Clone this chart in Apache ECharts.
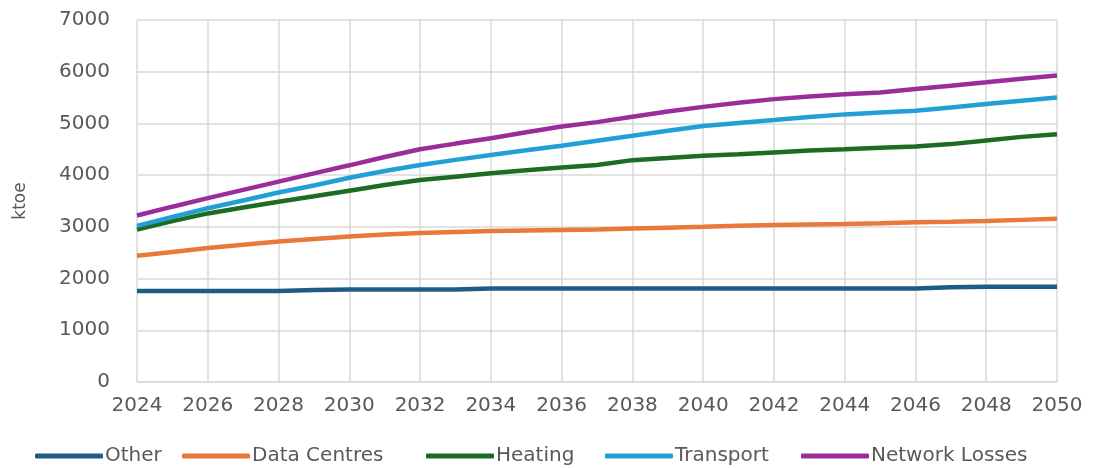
<!DOCTYPE html>
<html>
<head>
<meta charset="utf-8">
<script src="https://cdn.jsdelivr.net/npm/echarts@6/dist/echarts.min.js"></script>
<style>
  html, body { margin: 0; padding: 0; background: #fff; }
  #chart { width: 1094px; height: 468px; }
</style>
</head>
<body>
<div id="chart"></div>
<script>
// Final energy demand by end use, 2024-2050 (ktoe)
const years = ['2024','2025','2026','2027','2028','2029','2030','2031','2032','2033','2034','2035','2036','2037',
  '2038','2039','2040','2041','2042','2043','2044','2045','2046','2047','2048','2049','2050'];

const other = [1760,1760,1760,1760,1760,1780,1790,1790,1790,1790,1810,1810,1810,1810,
  1810,1810,1810,1810,1810,1810,1810,1810,1810,1830,1840,1840,1840];

const dataCentres = [2440,2515,2590,2655,2715,2765,2815,2850,2880,2900,2920,2930,2940,2950,
  2970,2985,3000,3020,3035,3045,3055,3070,3090,3100,3115,3135,3155];

const heating = [2950,3110,3260,3375,3485,3590,3700,3810,3905,3970,4035,4095,4150,4195,
  4290,4330,4375,4405,4440,4475,4500,4530,4555,4600,4670,4740,4790];

const transport = [3020,3190,3360,3510,3665,3800,3950,4080,4195,4295,4390,4480,4570,4665,
  4760,4860,4950,5010,5065,5125,5175,5210,5245,5310,5375,5440,5500];

const networkLosses = [3220,3390,3555,3715,3875,4035,4190,4350,4500,4610,4715,4830,4940,5025,
  5130,5230,5320,5400,5470,5520,5565,5600,5665,5730,5795,5865,5925];

const seriesNames = ['Other', 'Data Centres', 'Heating', 'Transport', 'Network Losses'];
const seriesData = [other, dataCentres, heating, transport, networkLosses];
const seriesColors = ['#1F5C84', '#E8793A', '#1E6B24', '#22A0D6', '#9B2D9B'];
// left edge of each legend entry along the bottom row
const legendLeft = [35, 182, 426, 605, 801];

const textColor = '#595959';
const gridColor = '#d9d9d9';
const fontFamily = '"DejaVu Sans", sans-serif';

const legends = seriesNames.map((name, i) => ({
  data: [name],
  left: legendLeft[i],
  bottom: 2,
  icon: 'roundRect',
  itemWidth: 68,
  itemHeight: 5,
  padding: 0,
  textStyle: { color: textColor, fontSize: 20, fontFamily: fontFamily, padding: [0, 0, 0, -3] }
}));

const chart = echarts.init(document.getElementById('chart'));
chart.setOption({
  animation: false,
  grid: { left: 137, right: 37, top: 20, bottom: 86 },
  legend: legends,
  xAxis: {
    type: 'category',
    data: years,
    boundaryGap: false,
    axisLine: { show: true, lineStyle: { color: gridColor, width: 1.5 } },
    axisTick: { show: false },
    axisLabel: { interval: 1, color: textColor, fontSize: 20, fontFamily: fontFamily, margin: 14 },
    splitLine: { show: true, interval: 1, lineStyle: { color: gridColor, width: 1.5 } }
  },
  yAxis: {
    type: 'value',
    min: 0,
    max: 7000,
    interval: 1000,
    name: 'ktoe',
    nameLocation: 'middle',
    nameGap: 108,
    nameTextStyle: { color: textColor, fontSize: 17, fontFamily: fontFamily },
    axisLine: { show: false },
    axisTick: { show: false },
    axisLabel: { color: textColor, fontSize: 20, fontFamily: fontFamily, margin: 27, formatter: v => String(v) },
    splitLine: { show: true, lineStyle: { color: gridColor, width: 1.5 } }
  },
  series: seriesNames.map((name, i) => ({
    name: name,
    type: 'line',
    data: seriesData[i],
    symbol: 'none',
    smooth: false,
    color: seriesColors[i],
    lineStyle: { color: seriesColors[i], width: 4.5 }
  }))
});
</script>
</body>
</html>
